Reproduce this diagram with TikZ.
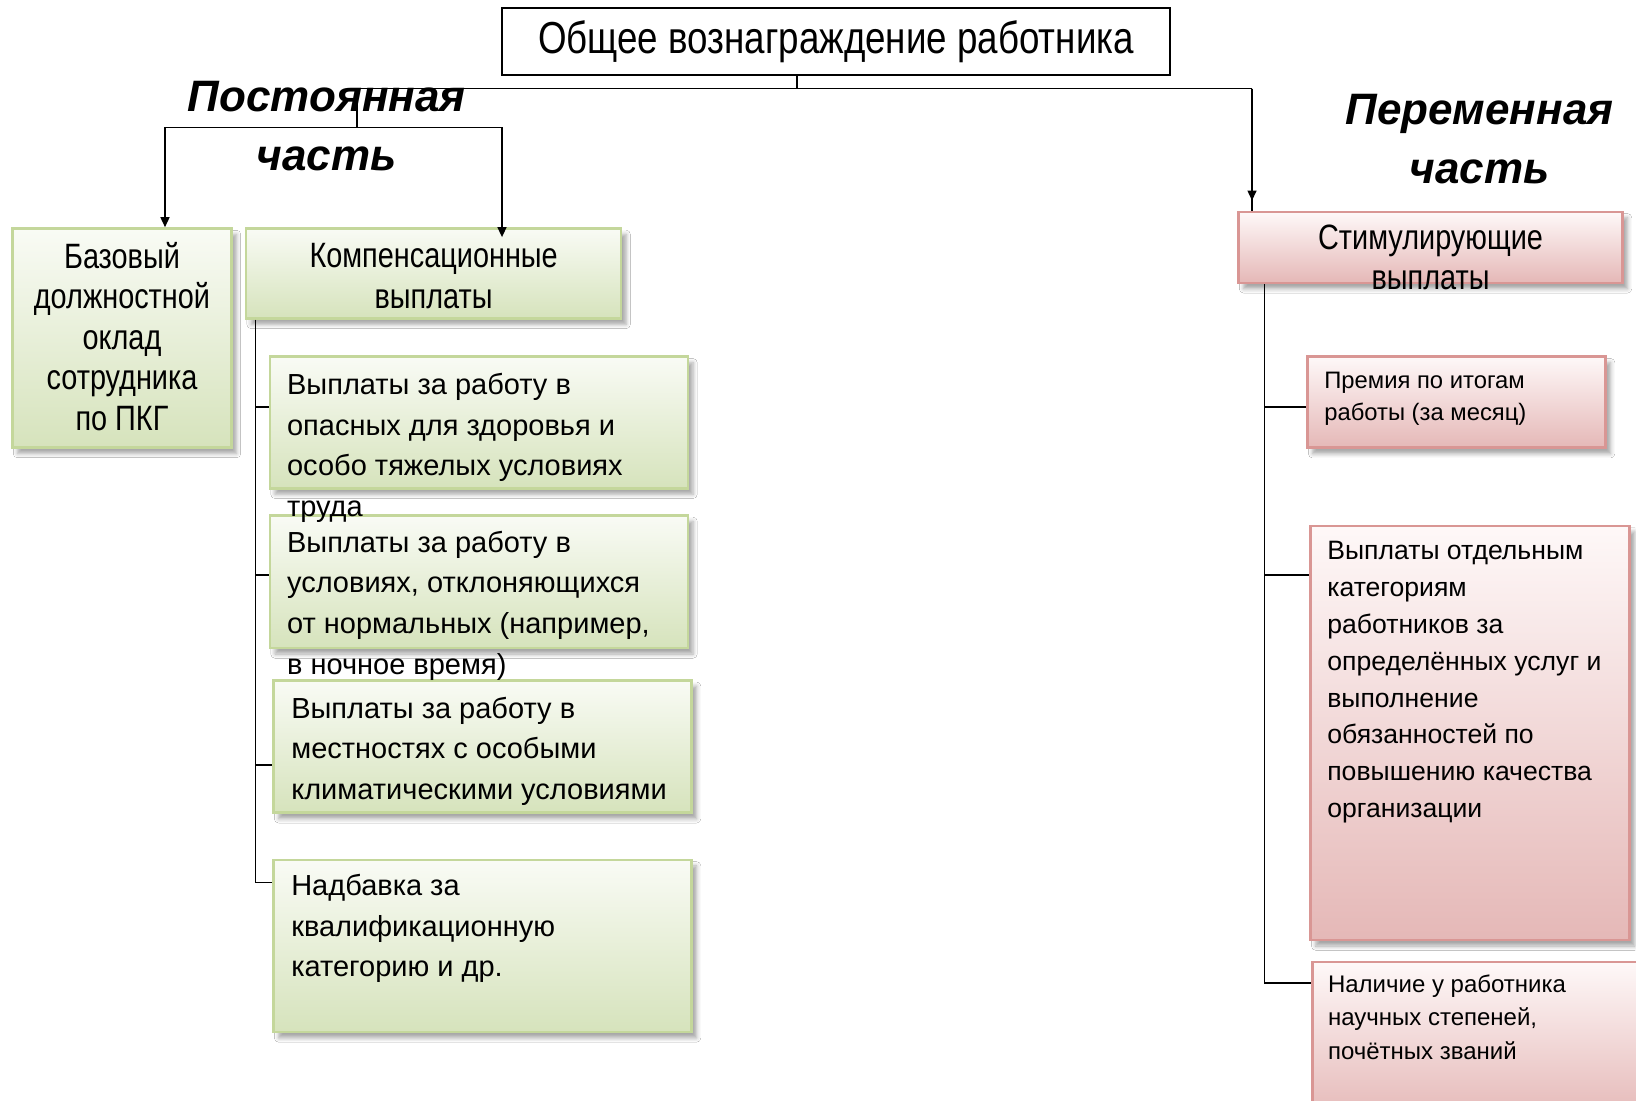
\documentclass[tikz,border=0pt]{standalone}
\usepackage{fontspec}
\setmainfont{Liberation Sans}
\newfontfamily\narrowfont[FakeStretch=0.82]{Liberation Sans}
\usetikzlibrary{positioning,shadows.blur,arrows.meta}
\definecolor{grTop}{RGB}{249,251,245}
\definecolor{grBot}{RGB}{214,227,188}
\definecolor{grLine}{RGB}{196,215,155}
\definecolor{pkTop}{RGB}{254,248,248}
\definecolor{pkBot}{RGB}{229,184,183}
\definecolor{pkLine}{RGB}{217,150,148}
\tikzset{
	tbox/.style={draw=black, line width=1pt, fill=white, inner sep=0,
		font=\narrowfont\fontsize{22.4}{26}\selectfont},
	gbox/.style={draw=grLine, line width=1.3pt, top color=grTop, bottom color=grBot,
		blur shadow={shadow xshift=2.5pt, shadow yshift=-3pt, shadow opacity=35}, inner sep=0},
	pbox/.style={draw=pkLine, line width=1.3pt, top color=pkTop, bottom color=pkBot,
		blur shadow={shadow xshift=2.5pt, shadow yshift=-3pt, shadow opacity=35}, inner sep=0},
	ntext/.style={inner sep=0, align=center, font=\narrowfont\fontsize{17.6}{20.3}\selectfont},
	gtext/.style={inner sep=0, align=left, font=\fontsize{14.5}{20.3}\selectfont},
	parttext/.style={inner sep=0, align=center, font=\fontsize{22}{29.2}\selectfont\bfseries\itshape},
	arr/.style={-{Triangle[length=5pt,width=4.5pt]}, line width=0.75pt},
	link/.style={line width=0.75pt}
}
\begin{document}
\begin{tikzpicture}[x=0.5pt,y=-0.5pt]
	\clip (0,0) rectangle (1636,1100);
	\fill[white] (0,0) rectangle (1636,1100);
	% boxes
	\node[tbox, minimum width=334pt, minimum height=33.5pt] (title) at (836,41.7) {Общее вознаграждение работника};
	\node[gbox, minimum width=109.5pt, minimum height=109.5pt] (baz) at (122,338) {};
	\node[gbox, minimum width=187.5pt, minimum height=45pt] (komp) at (433.6,273.4) {};
	\node[gbox, minimum width=209pt, minimum height=65.75pt] (g1) at (479,422.5) {};
	\node[gbox, minimum width=209pt, minimum height=66.3pt] (g2) at (479,581.7) {};
	\node[gbox, minimum width=209pt, minimum height=66.25pt] (g3) at (482.6,746.5) {};
	\node[gbox, minimum width=209pt, minimum height=86pt] (g4) at (482.6,945.9) {};
	\node[pbox, minimum width=192pt, minimum height=35.5pt] (stim) at (1430.5,247.3) {};
	\node[pbox, minimum width=149pt, minimum height=45.5pt] (prem) at (1456.6,402.2) {};
	\node[pbox, minimum width=159.5pt, minimum height=207pt] (vyp) at (1470.2,733) {};
	\node[pbox, minimum width=168.5pt, minimum height=79pt] (nal) at (1481,1041) {};
	% connectors
	\coordinate (jt) at (797,88.7);
	\coordinate (jl) at (357,88.7);
	\coordinate (jr) at (1252,88.7);
	\coordinate (kl) at (357,127.3);
	\coordinate (ka) at (165,127.3);
	\coordinate (kb) at (502,127.3);
	\draw[link] (title.south -| jt) -- (jt);
	\draw[link] (jl) -- (jr);
	\draw[arr, shorten >=5pt] (jr) -- (stim.north -| jr);
	\draw[link] (jr) -- (stim.north -| jr);
	\draw[link] (jl) -- (kl);
	\draw[link] (ka) -- (kb);
	\draw[arr] (ka) -- (baz.north -| ka);
	\draw[arr, shorten >=-5pt] (kb) -- (komp.north -| kb);
	\coordinate (t1) at (255.6,407);
	\coordinate (t2) at (255.6,575);
	\coordinate (t3) at (255.6,765);
	\coordinate (t4) at (255.6,882.7);
	\draw[link] (komp.south -| t1) -- (t4) -- (t4 -| g4.west);
	\draw[link] (t1) -- (t1 -| g1.west);
	\draw[link] (t2) -- (t2 -| g2.west);
	\draw[link] (t3) -- (t3 -| g3.west);
	\coordinate (r1) at (1264.6,407);
	\coordinate (r2) at (1264.6,575);
	\coordinate (r3) at (1264.6,983);
	\draw[link] (stim.south -| r1) -- (r3) -- (r3 -| nal.west);
	\draw[link] (r1) -- (r1 -| prem.west);
	\draw[link] (r2) -- (r2 -| vyp.west);
	% texts
	\node[parttext, anchor=north] (pconst) at (326.6,70.5) {\strut Постоянная\\часть};
	\node[parttext, anchor=north] (pvar) at (1479.5,83.5) {\strut Переменная\\часть};
	\node[ntext, below=6pt of baz.north] (baztxt) {\strut Базовый\\должностной\\оклад\\сотрудника\\по ПКГ};
	\node[ntext, below=6pt of komp.north] (komptxt) {\strut Компенсационные\\выплаты};
	\node[ntext, below=5pt of stim.north] (stimtxt) {\strut Стимулирующие\\выплаты};
	\node[gtext, below right=5.1pt and 9pt of g1.north west] (g1txt) {\strut Выплаты за работу в\\опасных для здоровья и\\особо тяжелых условиях\\труда};
	\node[gtext, below right=4.65pt and 9pt of g2.north west] (g2txt) {\strut Выплаты за работу в\\условиях, отклоняющихся\\от нормальных (например,\\в ночное время)};
	\node[gtext, below right=5.15pt and 9.3pt of g3.north west] (g3txt) {\strut Выплаты за работу в\\местностях с особыми\\климатическими условиями};
	\node[gtext, below right=4.1pt and 9.3pt of g4.north west] (g4txt) {\strut Надбавка за\\квалификационную\\категорию и др.};
	\node[gtext, font=\fontsize{11.9}{16.2}\selectfont, below right=4.85pt and 8.8pt of prem.north west] (premtxt) {\strut Премия по итогам\\работы (за месяц)};
	\node[gtext, font=\fontsize{13.3}{18.4}\selectfont, below right=4.5pt and 8.75pt of vyp.north west] (vyptxt) {\strut Выплаты отдельным\\категориям\\работников за\\определённых услуг и\\выполнение\\обязанностей по\\повышению качества\\организации};
	\node[gtext, font=\fontsize{12}{16.7}\selectfont, below right=3.9pt and 8.2pt of nal.north west] (naltxt) {\strut Наличие у работника\\научных степеней,\\почётных званий};
\end{tikzpicture}
\end{document}
